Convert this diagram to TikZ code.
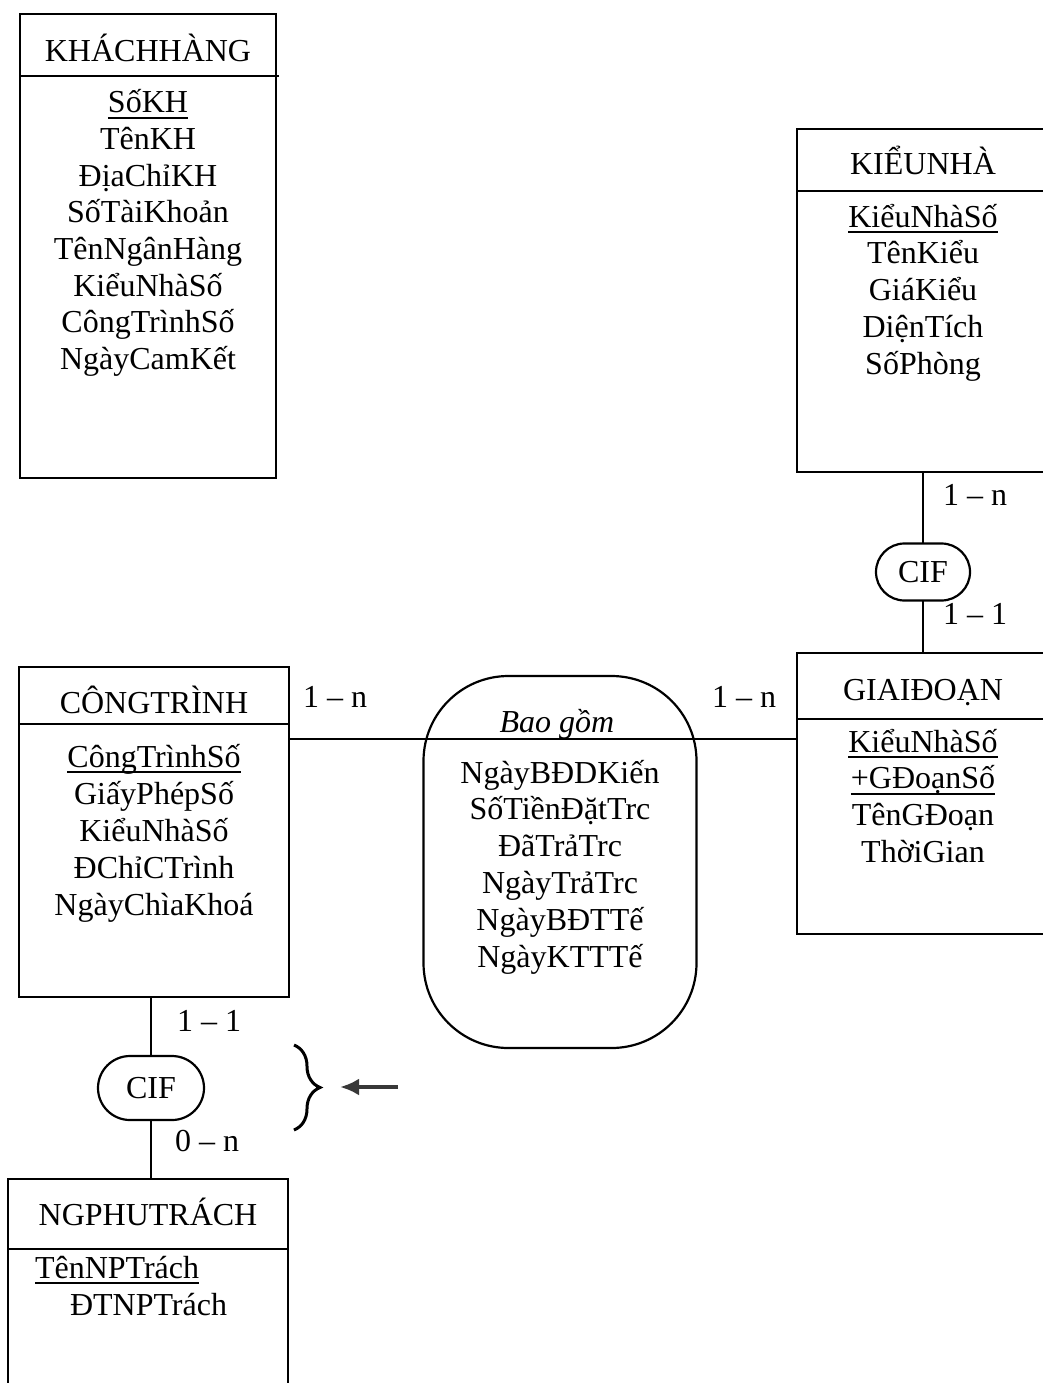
\documentclass[tikz,border=0pt]{standalone}
\usepackage{fontspec}
\setmainfont{Liberation Serif}
\usepackage{tikz}
\usetikzlibrary{arrows.meta}
\usetikzlibrary{decorations.pathreplacing, calc}

% underlined key attribute
\newcommand{\keyul}[1]{\setbox0=\hbox{#1}\rlap{\rule[-5.8pt]{\wd0}{1.6pt}}\box0}

\begin{document}
\begin{tikzpicture}[x=1pt, y=-1pt, line width=2.2pt,
  every node/.style={font=\fontsize{32}{36.7}\selectfont, inner sep=0pt, outer sep=0pt},
  entity/.style={draw, rectangle, anchor=north west},
  rel/.style={draw, rectangle},
  brace/.style={decorate, decoration={brace, amplitude=26pt, aspect=0.5}, line width=3pt},
  pointer/.style={-{Latex[length=19pt,width=17pt]}, line width=4.5pt, draw=black!78, fill=black!78}]
\useasboundingbox (0,0) rectangle (1043,1383);

% entity boxes
\node[entity, minimum width=256pt, minimum height=464pt] (khachhang) at (20,14) {};
\node[entity, minimum width=260pt, minimum height=343pt] (kieunha) at (797,129) {};
\node[entity, minimum width=260pt, minimum height=281pt] (giaidoan) at (797,653) {};
\node[entity, minimum width=270pt, minimum height=330pt] (congtrinh) at (19,667) {};
\node[entity, minimum width=280pt, minimum height=240pt] (ngpt) at (8,1179) {};

% header lines
\draw ([yshift=-62pt]khachhang.north west) -- ([yshift=-62pt, xshift=3pt]khachhang.north east);
\draw ([yshift=-62pt]kieunha.north west) -- ([yshift=-62pt]kieunha.north east);
\draw ([yshift=-66pt]giaidoan.north west) -- ([yshift=-66pt]giaidoan.north east);
\draw ([yshift=-57pt]congtrinh.north west) -- ([yshift=-57pt]congtrinh.north east);
\draw ([yshift=-70pt]ngpt.north west) -- ([yshift=-70pt, xshift=1pt]ngpt.north east);

% titles
\foreach \x/\y/\title in {148/62/KHÁCHHÀNG, 923/175/KIỂUNHÀ, 923/700/GIAIĐOẠN, 154/713/CÔNGTRÌNH, 148/1225/NGPHUTRÁCH}{
\node[anchor=base] at (\x,\y) {\title};
}

% attributes
\foreach \attr [count=\i from 0] in {\keyul{SốKH}, TênKH, ĐịaChỉKH, SốTàiKhoản, TênNgânHàng, KiểuNhàSố, CôngTrìnhSố, NgàyCamKết}
  \node[anchor=base] at (148,113+36.6*\i) {\attr};
\foreach \attr [count=\i from 0] in {\keyul{KiểuNhàSố}, TênKiểu, GiáKiểu, DiệnTích, SốPhòng}
  \node[anchor=base] at (923,227+36.8*\i) {\attr};
\foreach \attr [count=\i from 0] in {\keyul{KiểuNhàSố}, \keyul{+GĐoạnSố}, TênGĐoạn, ThờiGian}
  \node[anchor=base] at (923,752+36.7*\i) {\attr};
\foreach \attr [count=\i from 0] in {\keyul{CôngTrìnhSố}, GiấyPhépSố, KiểuNhàSố, ĐChỉCTrình, NgàyChìaKhoá}
  \node[anchor=base] at (154,767+37*\i) {\attr};
\node[anchor=base west] at (35,1278) {\keyul{TênNPTrách}};
\node[anchor=base west] at (70,1315) {ĐTNPTrách};

% relationship
\node[rel, minimum width=273pt, minimum height=372pt, rounded corners=85pt] (baogom) at (560,862) {};
\node[anchor=base] at (557,732) {\itshape Bao gồm};
\foreach \attr [count=\i from 0] in {NgàyBĐDKiến, SốTiềnĐặtTrc, ĐãTrảTrc, NgàyTrảTrc, NgàyBĐTTế, NgàyKTTTế}
  \node[anchor=base] at (560,783+36.8*\i) {\attr};

% CIF links
\node[rel, minimum width=94pt, minimum height=57pt, rounded corners=28.5pt] (cifkn) at (923,572) {CIF};
\node[rel, minimum width=106pt, minimum height=64pt, rounded corners=32pt] (cifct) at (151,1088) {CIF};

% connectors
\draw (cifkn.north) -- (cifkn.north |- kieunha.south);
\draw (cifkn.south) -- (cifkn.south |- giaidoan.north);
\draw ([yshift=-72pt]congtrinh.north east) -- ([yshift=-72pt]congtrinh.north east -| giaidoan.west);
\draw (cifct.north) -- (cifct.north |- congtrinh.south);
\draw (cifct.south) -- (cifct.south |- ngpt.north);

% cardinalities
\foreach \x/\y/\card in {943/505/1 – n, 943/624/1 – 1, 303/707/1 – n, 712/707/1 – n, 177/1031/1 – 1, 175/1151/0 – n}{
\node[anchor=base west] at (\x,\y) {\card};
}

% brace and pointer
\draw[brace] (294,1045) -- (294,1130);
\coordinate (ptrtail) at (398,1087);
\coordinate (ptrhead) at (340,1087);
\draw[pointer] (ptrtail) -- (ptrhead);
\end{tikzpicture}
\end{document}
